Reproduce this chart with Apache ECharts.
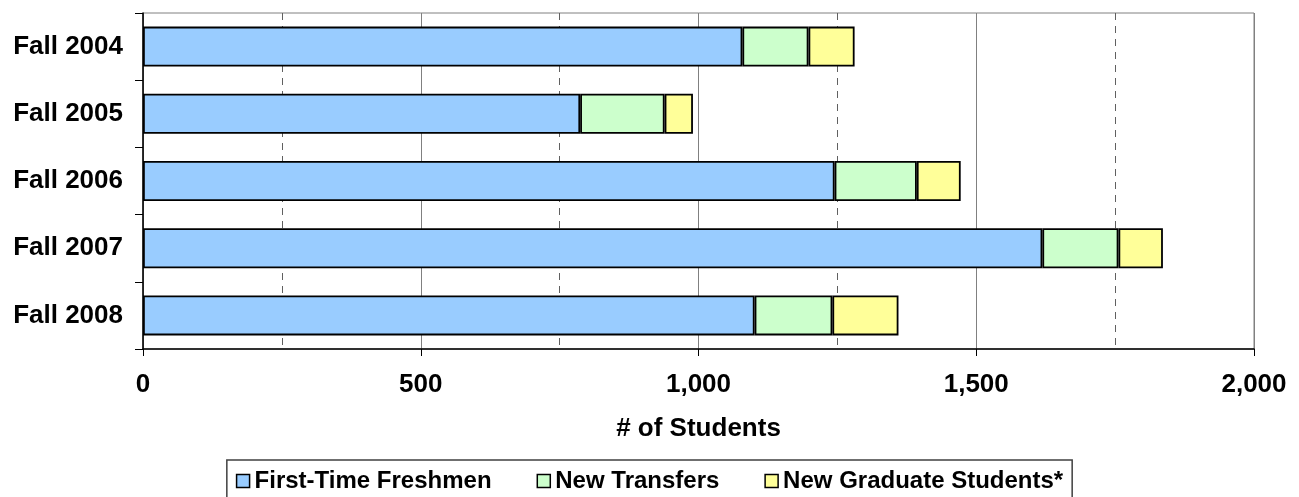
<!DOCTYPE html>
<html>
<head>
<meta charset="utf-8">
<script src="https://cdn.jsdelivr.net/npm/echarts@6/dist/echarts.min.js"></script>
<style>
html,body{margin:0;padding:0;background:#fff;}
#chart{width:1299px;height:497px;}
</style>
</head>
<body>
<div id="chart"></div>
<script>
const categories = ['Fall 2004', 'Fall 2005', 'Fall 2006', 'Fall 2007', 'Fall 2008'];
const freshmen = [1079, 787, 1245, 1619, 1101];
const transfers = [119, 152, 148, 137, 140];
const graduates = [83, 51, 79, 80, 119];
const seriesNames = ['First-Time Freshmen', 'New Transfers', 'New Graduate Students*'];
const axisTitle = '# of Students';

const FONT = "'Liberation Sans', Arial, sans-serif";
const colors = ['#99CCFF', '#CCFFCC', '#FFFF99'];
const chart = echarts.init(document.getElementById('chart'));

function barSeries(name, data, color) {
  return {
    name: name,
    type: 'bar',
    stack: 'total',
    data: data,
    barWidth: 40,
    itemStyle: { color: color, borderColor: '#000', borderWidth: 1.8 },
    emphasis: { disabled: true }
  };
}

chart.setOption({
  animation: false,
  textStyle: { fontFamily: FONT },
  grid: {
    left: 143, right: 45, top: 13, bottom: 148,
    show: true, borderColor: '#808080', borderWidth: 1, backgroundColor: 'transparent'
  },
  legend: {
    data: seriesNames.map((n) => ({ name: n, icon: 'rect' })),
    left: 'center',
    top: 460,
    itemWidth: 13,
    itemHeight: 13,
    itemGap: 45,
    padding: [9, 9],
    borderColor: '#404040',
    borderWidth: 1.5,
    borderRadius: 0,
    itemStyle: { borderColor: '#000', borderWidth: 1.5 },
    textStyle: { fontFamily: FONT, fontSize: 24, fontWeight: 'bold', color: '#000' }
  },
  xAxis: {
    type: 'value',
    min: 0,
    max: 2000,
    interval: 500,
    name: axisTitle,
    nameLocation: 'middle',
    nameGap: 67,
    nameTextStyle: { fontFamily: FONT, fontSize: 26, fontWeight: 'bold', color: '#000' },
    axisLine: { show: true, lineStyle: { color: '#000', width: 1.5 } },
    axisTick: { show: true, inside: false, length: 7, lineStyle: { color: '#000', width: 1 } },
    axisLabel: {
      margin: 23,
      fontFamily: FONT, fontSize: 26, fontWeight: 'bold', color: '#000',
      formatter: (v) => v.toLocaleString('en-US')
    },
    splitLine: { show: true, lineStyle: { color: '#808080', width: 1, type: 'solid' } },
    minorTick: { show: false, splitNumber: 2 },
    minorSplitLine: { show: true, lineStyle: { color: '#606060', width: 1, type: [7, 6] } }
  },
  yAxis: {
    type: 'category',
    inverse: true,
    data: categories,
    axisLine: { show: true, lineStyle: { color: '#000', width: 1.5 } },
    axisTick: { show: true, inside: false, length: 8, lineStyle: { color: '#000', width: 1 } },
    axisLabel: { margin: 20, fontFamily: FONT, fontSize: 26, fontWeight: 'bold', color: '#000' },
    splitLine: { show: false }
  },
  series: [
    barSeries(seriesNames[0], freshmen, colors[0]),
    barSeries(seriesNames[1], transfers, colors[1]),
    barSeries(seriesNames[2], graduates, colors[2])
  ]
});
</script>
</body>
</html>
